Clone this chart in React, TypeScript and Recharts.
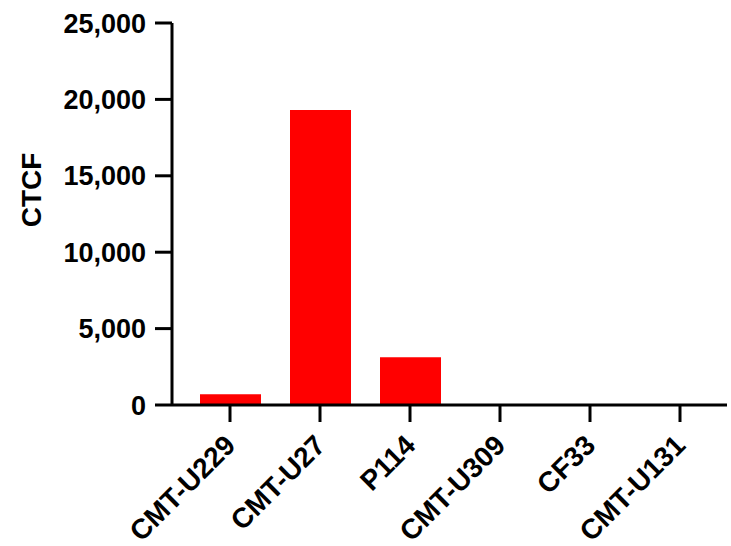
import { Bar, BarChart, XAxis, YAxis } from 'recharts'

const samples = ['CMT-U229', 'CMT-U27', 'P114', 'CMT-U309', 'CF33', 'CMT-U131']
const ctcf = [700, 19300, 3120, 0, 0, 0]
const yTicks = [0, 5000, 10000, 15000, 20000, 25000]

const data = samples.map((name, i) => ({ name, ctcf: ctcf[i] }))

const FONT = '"Liberation Sans", Arial, Helvetica, sans-serif'
const INK = '#000000'

function XTick(props: any) {
  const { x, payload } = props
  const tx = x + 7
  const ty = 447
  return (
    <text
      x={tx}
      y={ty}
      textAnchor="end"
      transform={`rotate(-45, ${tx}, ${ty})`}
      fontFamily={FONT}
      fontWeight="bold"
      fontSize={28}
      fill={INK}
    >
      {payload.value}
    </text>
  )
}

export default function App() {
  return (
    <div style={{ position: 'absolute', left: 0, top: 0, width: 731, height: 546, background: '#fff' }}>
      <BarChart width={731} height={546} data={data} margin={{ top: 23, right: 4, bottom: 0, left: 0 }}>
        <text
          x={41}
          y={190}
          textAnchor="middle"
          transform="rotate(-90, 41, 190)"
          fontFamily={FONT}
          fontWeight="bold"
          fontSize={28}
          fill={INK}
        >
          CTCF
        </text>
        <XAxis
          dataKey="name"
          interval={0}
          height={141}
          padding={{ left: 13, right: 2 }}
          tickSize={17}
          axisLine={{ stroke: INK, strokeWidth: 3 }}
          tickLine={{ stroke: INK, strokeWidth: 3 }}
          tick={<XTick />}
        />
        <YAxis
          width={172}
          domain={[0, 25000]}
          ticks={yTicks}
          interval={0}
          tickSize={17}
          tickMargin={9}
          tickFormatter={(v: number) => v.toLocaleString('en-US')}
          axisLine={{ stroke: INK, strokeWidth: 3 }}
          tickLine={{ stroke: INK, strokeWidth: 3 }}
          tick={{ fill: INK, fontFamily: FONT, fontWeight: 'bold', fontSize: 27 }}
        />
        <Bar dataKey="ctcf" fill="#ff0000" barSize={61} isAnimationActive={false} />
      </BarChart>
    </div>
  )
}
